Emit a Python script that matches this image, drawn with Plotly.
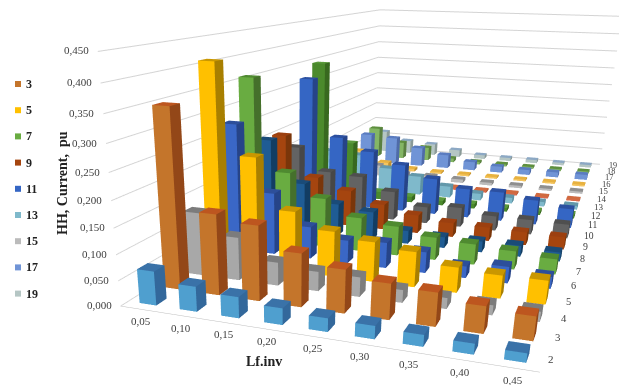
import plotly.graph_objects as go

lf_inv = [0.05, 0.10, 0.15, 0.20, 0.25, 0.30, 0.35, 0.40, 0.45]
orders = list(range(2, 20))
s2 = [.067, .049, .041, .032, .026, .025, .022, .02, .017]
s3 = [.35, .16, .148, .105, .085, .07, .065, .052, .046]
s4 = [.13, .089, .048, .04, .04, .026, .022, .02, .02]
s5 = [.41, .23, .127, .095, .083, .073, .052, .047, .048]
s6 = [.275, .135, .07, .05, .055, .045, .025, .035, .025]
s7 = [.36, .16, .11, .075, .065, .05, .045, .04, .033]
s8 = [.21, .115, .075, .065, .03, .025, .025, .025, .02]
s9 = [.205, .11, .085, .06, .043, .033, .032, .03, .028]
s10 = [.16, .105, .10, .07, .04, .047, .035, .035, .033]
s11 = [.317, .175, .145, .118, .09, .072, .072, .06, .047]
s12 = [.347, .145, .02, .015, .012, .012, .01, .01, .01]
s13 = [.10, .095, .065, .05, .03, .018, .015, .012, .01]
s14 = [.05, .04, .012, .008, .006, .005, .005, .004, .004]
s15 = [.06, .03, .012, .012, .01, .008, .007, .006, .006]
s16 = [.05, .02, .008, .005, .005, .005, .005, .005, .005]
s17 = [.085, .08, .055, .04, .025, .018, .015, .015, .015]
s18 = [.09, .05, .04, .012, .008, .007, .006, .006, .006]
s19 = [.065, .04, .035, .022, .012, .01, .01, .008, .008]
series = [s2, s3, s4, s5, s6, s7, s8, s9, s10, s11, s12, s13, s14, s15, s16, s17, s18, s19]
z_ticks = [0.0, 0.05, 0.10, 0.15, 0.20, 0.25, 0.30, 0.35, 0.40, 0.45]
legend_orders = [3, 5, 7, 9, 11, 13, 15, 17, 19]

# front, top and side shade for each harmonic order
shades = [
    ("#4f9fcf", "#3a72a8", "#33689b"), ("#c4752b", "#bd561f", "#934718"),
    ("#a8a8a8", "#7c7c7c", "#7d7d7d"), ("#ffc000", "#c99700", "#a87f00"),
    ("#3a67c6", "#2d4f9a", "#264488"), ("#69ac41", "#4f8a30", "#45702b"),
    ("#1f5c94", "#1a4b78", "#123d63"), ("#a5450f", "#9c4010", "#7a360a"),
    ("#636363", "#4f4f4f", "#474747"), ("#3566c4", "#2c50a0", "#264488"),
    ("#4b8a2c", "#5b9a3c", "#38691f"), ("#7fb9cb", "#6398aa", "#5f93a3"),
    ("#d9694a", "#d06a40", "#a8502f"), ("#bbbbbb", "#8f8f8f", "#8a8a8a"),
    ("#f4c560", "#e8b240", "#c09030"), ("#7094d6", "#5a7cc0", "#4f6ba8"),
    ("#84b665", "#5e8f3f", "#5a8040"), ("#b5c6c4", "#8ca8c4", "#8a9a98"),
]

FIG_W, FIG_H = 619, 700
SERIF = "Liberation Serif"
BAR_W, BAR_D = 0.021, 0.42
X_RANGE, Y_RANGE, Z_RANGE = [0.025, 0.475], [1.5, 19.5], [0.0, 0.4501]

# faces that can be seen from the camera: front, top, right side
FACES = [((0, 1, 5), 0), ((0, 5, 4), 0), ((4, 5, 6), 1), ((4, 6, 7), 1), ((1, 2, 6), 2), ((1, 6, 5), 2)]


def bars(order, vals, colors):
    xs, ys, zs, ii, jj, kk, fc = [], [], [], [], [], [], []
    for cat, v in zip(lf_inv, vals):
        b = len(xs)
        x0, x1 = cat - BAR_W / 2, cat + BAR_W / 2
        y0, y1 = order - BAR_D / 2, order + BAR_D / 2
        xs += [x0, x1, x1, x0, x0, x1, x1, x0]
        ys += [y0, y0, y1, y1, y0, y0, y1, y1]
        zs += [0, 0, 0, 0, v, v, v, v]
        for tri, shade in FACES:
            ii.append(b + tri[0]); jj.append(b + tri[1]); kk.append(b + tri[2])
            fc.append(colors[shade])
    return go.Mesh3d(x=xs, y=ys, z=zs, i=ii, j=jj, k=kk, facecolor=fc, flatshading=True,
                     lighting=dict(ambient=1, diffuse=0, specular=0, fresnel=0, roughness=1),
                     hoverinfo="skip", showscale=False, name=str(order))


fig = go.Figure([bars(o, v, c) for o, v, c in zip(orders, series, shades)])

scene_labels = []
for v in z_ticks:
    scene_labels.append(dict(x=X_RANGE[0], y=Y_RANGE[0], z=v, text=f"{v:.3f}".replace(".", ","), showarrow=False,
                             xanchor="right", xshift=-7, yshift=1, font=dict(family=SERIF, size=11, color="#404040")))
for v in lf_inv:
    scene_labels.append(dict(x=v, y=Y_RANGE[0], z=0, text=f"{v:.2f}".replace(".", ","), showarrow=False,
                             xshift=0, yshift=-12, font=dict(family=SERIF, size=11, color="#404040")))
for n, o in enumerate(orders):
    scene_labels.append(dict(x=X_RANGE[1], y=o, z=0, text=str(o), showarrow=False, yshift=2,
                             xshift=8 + n * 0.33, font=dict(family=SERIF, size=11 - n * 0.17, color="#404040")))


def px(x, y):
    return dict(x=x / FIG_W, y=1 - y / FIG_H, xref="paper", yref="paper", yanchor="middle")


notes, boxes = [], []
for n, o in enumerate(legend_orders):
    y = 84 + n * 26.2
    notes.append(dict(**px(24, y), text=f"<b>{o}</b>", showarrow=False, xanchor="left",
                      font=dict(family=SERIF, size=12, color="#222222")))
    boxes.append(dict(type="rect", xref="paper", yref="paper", x0=15 / FIG_W, x1=21 / FIG_W,
                      y0=1 - (y + 3) / FIG_H, y1=1 - (y - 3) / FIG_H, line_width=0,
                      fillcolor=shades[orders.index(o)][0]))
notes.append(dict(**px(62, 183), text="<b>HH, Current,  pu</b>", textangle=-90, showarrow=False, xanchor="center",
                  font=dict(family=SERIF, size=14, color="#222222")))
notes.append(dict(**px(264, 361), text="<b>Lf.inv</b>", showarrow=False, xanchor="center",
                  font=dict(family=SERIF, size=14, color="#222222")))

axis = dict(showgrid=False, zeroline=False, showticklabels=False, title="", showbackground=False, ticks="")
fig.update_layout(
    width=FIG_W, height=FIG_H, margin=dict(l=0, r=0, t=0, b=0), paper_bgcolor="white",
    annotations=notes, shapes=boxes,
    scene=dict(
        domain=dict(x=[0, 1], y=[0, 1]),
        aspectmode="manual", aspectratio=dict(x=1, y=2.177, z=0.588),
        camera=dict(eye=dict(x=0.598, y=-2.728, z=0.466), center=dict(x=-0.295, y=-0.311, z=-0.706),
                    up=dict(x=-0.1529, y=0.3849, z=0.9102)),
        xaxis=dict(axis, range=X_RANGE, showline=True, linecolor="#bdbdbd"),
        yaxis=dict(axis, range=Y_RANGE),
        zaxis=dict(axis, range=Z_RANGE, dtick=0.05, showgrid=True, gridcolor="#d4d4d4"),
        annotations=scene_labels,
    ),
)
fig.write_html("out.html", config=dict(displayModeBar=False))
